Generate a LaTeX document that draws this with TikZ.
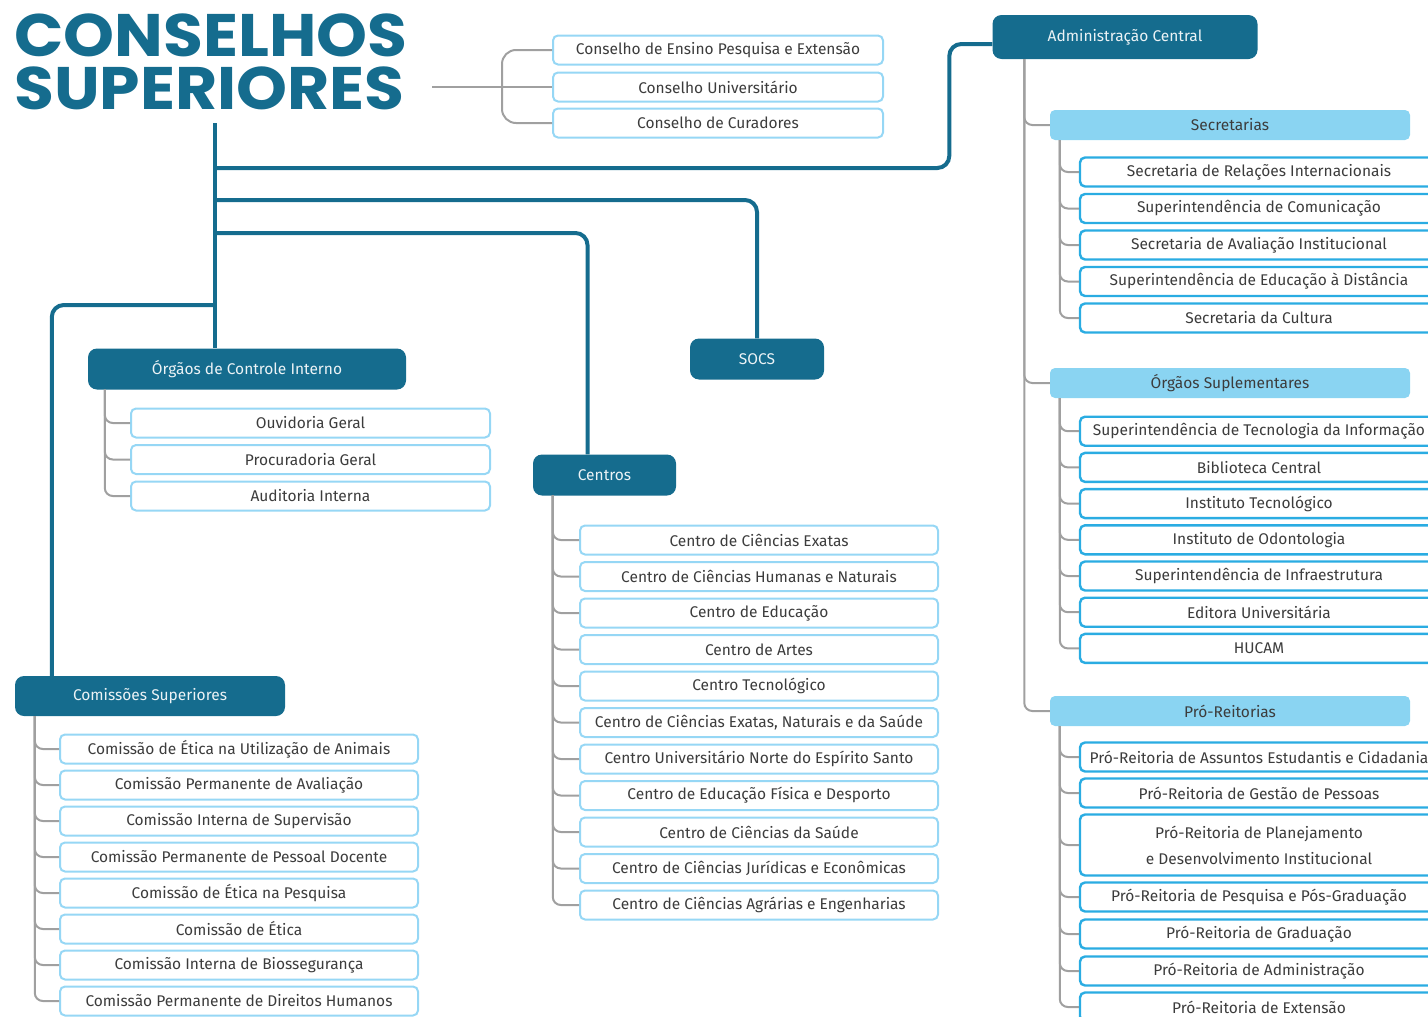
\documentclass[tikz,border=0pt]{standalone}
\usepackage{fontspec}
\setmainfont{Fira Sans}
\newfontfamily\titlefont{Poppins}[FakeStretch=1.08]
\usetikzlibrary{positioning}

\definecolor{ufteal}{HTML}{156C8E}
\definecolor{skyfill}{HTML}{8AD4F2}
\definecolor{paleblue}{HTML}{96D7F5}
\definecolor{brightblue}{HTML}{2AACE2}
\definecolor{twiggrey}{HTML}{A0A0A0}
\definecolor{txtgrey}{HTML}{3C3C3C}

\tikzset{
  titlebox/.style={font=\titlefont\bfseries\fontsize{60}{53}\selectfont, text=ufteal,
    align=left, anchor=north west, inner sep=0pt},
  head/.style={rectangle, rounded corners=9pt, fill=ufteal, text=white!92!ufteal,
    font=\fontsize{15.5}{18}\selectfont, inner sep=0pt},
  subhead/.style={rectangle, rounded corners=5pt, fill=skyfill, text=txtgrey,
    minimum width=360pt, minimum height=30pt, font=\fontsize{15.5}{18}\selectfont, inner sep=0pt},
  item/.style={rectangle, draw=paleblue, line width=2pt, rounded corners=5pt, fill=white,
    minimum width=358pt, minimum height=29pt, text=txtgrey,
    font=\fontsize{15.5}{18}\selectfont, inner sep=0pt},
  ritem/.style={item, draw=brightblue, line width=2.4pt},
  trunk/.style={draw=ufteal, line width=4pt, rounded corners=12pt},
  twig/.style={draw=twiggrey, line width=2pt, rounded corners=8pt},
}

\begin{document}
\begin{tikzpicture}[x=1pt, y=-1pt]
			%%%%% START %%%%%
			\useasboundingbox (0,0) rectangle (1428,1017);
			\clip (0,0) rectangle (1428,1017);
			
			% title and councils
			\node[titlebox] (title) at (14,14) {CONSELHOS\\SUPERIORES};
			\coordinate (stem) at (215,123);
			
			\node[item, minimum width=330pt] (ce1) at (718,50) {Conselho de Ensino Pesquisa e Extensão};
			\node[item, minimum width=330pt] (ce2) at (718,87) {Conselho Universitário};
			\node[item, minimum width=330pt] (ce3) at (718,123) {Conselho de Curadores};
			
			\draw[twig] (432,87) -- (ce2.west);
			\draw[twig, rounded corners=14pt] (ce1.west) -| ([xshift=-50]ce3.west) -- (ce3.west);
			
			% main heads
			\node[head, minimum width=265pt, minimum height=44pt] (admin) at (1125,37) {Administração Central};
			\node[head, minimum width=318pt, minimum height=41pt] (oci) at (247,369) {Órgãos de Controle Interno};
			\node[head, minimum width=134pt, minimum height=41pt] (socs) at (757,359) {SOCS};
			\node[head, minimum width=143pt, minimum height=41pt] (centros) at (604.5,475) {Centros};
			\node[head, minimum width=270pt, minimum height=40pt] (cs) at (150,696) {Comissões Superiores};
			
			\draw[trunk] (stem) -- (stem |- oci.north);
			\draw[trunk] (stem |- 0,168) -| ([xshift=-43,yshift=-7]admin.west) -- ([yshift=-7]admin.west);
			\draw[trunk] (stem |- 0,200) -| (socs.north);
			\draw[trunk] (stem |- 0,233) -| ([xshift=-17]centros.north);
			\draw[trunk] (stem |- 0,305) -| ([xshift=37]cs.north west);
			
			% controle interno
			\foreach \txt [count=\i] in {Ouvidoria Geral, Procuradoria Geral, Auditoria Interna}{
			  \node[item, minimum width=359pt] (o\i) at (310.5,{386.5+36.5*\i}) {\txt};
			  \draw[twig] ([xshift=17]oci.south west) |- (o\i.west);
			}
			
			% centros
			\foreach \txt [count=\i] in {Centro de Ciências Exatas, Centro de Ciências Humanas e Naturais,
			  Centro de Educação, Centro de Artes, Centro Tecnológico,
			  {Centro de Ciências Exatas, Naturais e da Saúde}, Centro Universitário Norte do Espírito Santo,
			  Centro de Educação Física e Desporto, Centro de Ciências da Saúde,
			  Centro de Ciências Jurídicas e Econômicas, Centro de Ciências Agrárias e Engenharias}{
			  \node[item] (c\i) at (759,{503.5+36.5*\i}) {\txt};
			  \draw[twig] ([xshift=20]centros.south west) |- (c\i.west);
			}
			
			% comissoes
			\foreach \txt [count=\i] in {Comissão de Ética na Utilização de Animais, Comissão Permanente de Avaliação,
			  Comissão Interna de Supervisão, Comissão Permanente de Pessoal Docente,
			  Comissão de Ética na Pesquisa, Comissão de Ética, Comissão Interna de Biossegurança,
			  Comissão Permanente de Direitos Humanos}{
			  \node[item] (k\i) at (239,{713+36*\i}) {\txt};
			  \draw[twig] ([xshift=20]cs.south west) |- (k\i.west);
			}
			
			% administracao central
			\node[subhead] (sec) at (1230,125) {Secretarias};
			\node[subhead] (sup) at (1230,383) {Órgãos Suplementares};
			\node[subhead] (pro) at (1230,711) {Pró-Reitorias};
			\foreach \h in {sec, sup, pro}
			  \draw[twig] ([xshift=32]admin.south west) |- (\h.west);
			
			\foreach \txt [count=\i] in {Secretaria de Relações Internacionais, Superintendência de Comunicação,
			  Secretaria de Avaliação Institucional, Superintendência de Educação à Distância,
			  Secretaria da Cultura}{
			  \node[ritem] (s\i) at (1259,{135.5+36.5*\i}) {\txt};
			  \draw[twig] ([xshift=10]sec.south west) |- (s\i.west);
			}
			
			\foreach \txt [count=\i] in {Superintendência de Tecnologia da Informação, Biblioteca Central,
			  Instituto Tecnológico, Instituto de Odontologia, Superintendência de Infraestrutura,
			  Editora Universitária, HUCAM}{
			  \node[ritem] (u\i) at (1259,{395+36.2*\i}) {\txt};
			  \draw[twig] ([xshift=10]sup.south west) |- (u\i.west);
			}
			
			\foreach \y/\txt [count=\i] in {757/Pró-Reitoria de Assuntos Estudantis e Cidadania,
			  793/Pró-Reitoria de Gestão de Pessoas, 897/Pró-Reitoria de Pesquisa e Pós-Graduação,
			  934/Pró-Reitoria de Graduação, 971/Pró-Reitoria de Administração, 1007/Pró-Reitoria de Extensão}{
			  \node[ritem] (p\i) at (1259,\y) {\txt};
			  \draw[twig] ([xshift=10]pro.south west) |- (p\i.west);
			}
			\node[ritem, minimum height=61pt, align=center, font=\fontsize{15.5}{26}\selectfont] (pplan) at (1259,845)
			  {Pró-Reitoria de Planejamento\\e Desenvolvimento Institucional};
			\draw[twig] ([xshift=10]pro.south west) |- (pplan.west);
			
			%%%%% END %%%%%
\end{tikzpicture}
\end{document}
